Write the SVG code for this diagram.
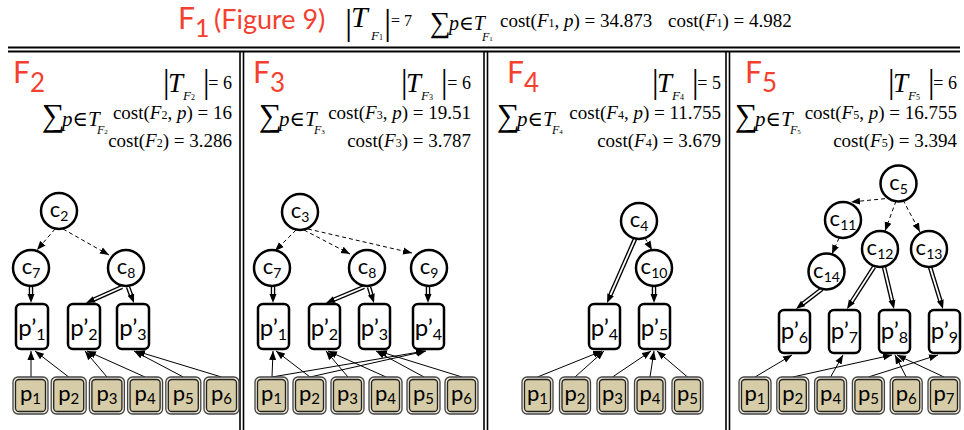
<svg xmlns="http://www.w3.org/2000/svg" width="964" height="430" viewBox="0 0 964 430">
<style>
.red{font-family:Lato,"Liberation Sans",sans-serif;fill:#f4402f}
.m{font-family:"Liberation Serif","DejaVu Serif",serif;fill:#000}
.i{font-style:italic}
.n{font-style:normal}
.e{text-anchor:end}
.lbl{font-family:Lato,"Liberation Sans",sans-serif;fill:#000;text-anchor:middle}
.cl{font-size:22px}
.pl{font-size:24px}
.ql{font-size:22px}
.circ{fill:#fff;stroke:#000;stroke-width:2.5}
.pp{fill:#fff;stroke:#000;stroke-width:2.5}
.po{fill:#eee9d8;stroke:#444;stroke-width:1.3}
.pi{fill:#d6cca8;stroke:#222;stroke-width:1.3}
.thin{stroke:#000;stroke-width:1;fill:none;marker-end:url(#ah)}
.dash{stroke:#000;stroke-width:1;stroke-dasharray:4 3;fill:none;marker-end:url(#ah)}
.dblo{stroke:#000;stroke-width:4.5;fill:none}
.dbli{stroke:#fff;stroke-width:1.8;fill:none}
.mk{stroke:none;fill:none;marker-end:url(#ah)}
.rule{stroke:#000;fill:none}
</style>
<defs>
<marker id="ah" markerUnits="userSpaceOnUse" markerWidth="10" markerHeight="8" refX="9" refY="4" orient="auto"><path d="M0,0.5 L9,4 L0,7.5 z" fill="#000"/></marker>
</defs>
<rect width="964" height="430" fill="#fff"/>

<g id="frame">
<line class="rule" x1="8" y1="47.5" x2="960" y2="47.5" stroke-width="2.2"/>
<line class="rule" x1="8" y1="51.5" x2="960" y2="51.5" stroke-width="2.2"/>
<line class="rule" x1="240" y1="52" x2="240" y2="430" stroke-width="1.6"/>
<line class="rule" x1="243.5" y1="52" x2="243.5" y2="430" stroke-width="1.6"/>
<line class="rule" x1="484" y1="52" x2="484" y2="430" stroke-width="1.6"/>
<line class="rule" x1="487.5" y1="52" x2="487.5" y2="430" stroke-width="1.6"/>
<line class="rule" x1="726" y1="52" x2="726" y2="430" stroke-width="1.6"/>
<line class="rule" x1="729.5" y1="52" x2="729.5" y2="430" stroke-width="1.6"/>
</g>

<g id="header">
<text class="red" x="178" y="29" font-size="30">F<tspan font-size="25" dy="8">1</tspan></text>
<text class="red" x="214" y="29" font-size="27">(Figure 9)</text>
<text class="m" x="345" y="34" font-size="36">|</text>
<text class="m i" x="351" y="27" font-size="30">T</text>
<text class="m i" x="371" y="40" font-size="13">F<tspan class="n" font-size="8">1</tspan></text>
<text class="m" x="384" y="34" font-size="36">|</text>
<text class="m" x="391" y="26" font-size="16">= 7</text>
<text class="m" x="430" y="32" font-size="29">∑</text>
<text class="m" x="449" y="30" font-size="20"><tspan class="i">p</tspan>∈<tspan class="i">T</tspan></text>
<text class="m i" x="482" y="41" font-size="12">F<tspan class="n" font-size="7">1</tspan></text>
<text class="m" x="500" y="27" font-size="19">cost(<tspan class="i">F</tspan><tspan font-size="12">1</tspan>, <tspan class="i">p</tspan>) = 34.873</text>
<text class="m" x="668" y="27" font-size="19">cost(<tspan class="i">F</tspan><tspan font-size="12">1</tspan>) = 4.982</text>
</g>

<g id="panel-F2-header">
<text class="red" x="13" y="83" font-size="30">F<tspan font-size="26" dy="9">2</tspan></text>
<text class="m" x="163" y="93" font-size="33">|</text>
<text class="m i" x="168" y="92" font-size="27">T</text>
<text class="m i" x="183" y="100" font-size="13">F<tspan class="n" font-size="8">2</tspan></text>
<text class="m" x="203" y="93" font-size="33">|</text>
<text class="m e" x="232" y="89" font-size="18">= 6</text>
<text class="m" x="42" y="126" font-size="32">∑</text>
<text class="m" x="62" y="126" font-size="21"><tspan class="i">p</tspan>∈<tspan class="i">T</tspan></text>
<text class="m i" x="97" y="134" font-size="12">F<tspan class="n" font-size="7">2</tspan></text>
<text class="m e" x="232" y="119" font-size="19">cost(<tspan class="i">F</tspan><tspan font-size="12">2</tspan>, <tspan class="i">p</tspan>) = 16</text>
<text class="m e" x="232" y="147" font-size="19">cost(<tspan class="i">F</tspan><tspan font-size="12">2</tspan>) = 3.286</text>
</g>

<g id="panel-F3-header">
<text class="red" x="253" y="83" font-size="30">F<tspan font-size="26" dy="9">3</tspan></text>
<text class="m" x="401" y="93" font-size="33">|</text>
<text class="m i" x="406" y="92" font-size="27">T</text>
<text class="m i" x="421" y="100" font-size="13">F<tspan class="n" font-size="8">3</tspan></text>
<text class="m" x="441" y="93" font-size="33">|</text>
<text class="m e" x="471" y="89" font-size="18">= 6</text>
<text class="m" x="259" y="126" font-size="32">∑</text>
<text class="m" x="279" y="126" font-size="21"><tspan class="i">p</tspan>∈<tspan class="i">T</tspan></text>
<text class="m i" x="314" y="134" font-size="12">F<tspan class="n" font-size="7">3</tspan></text>
<text class="m e" x="471" y="119" font-size="19">cost(<tspan class="i">F</tspan><tspan font-size="12">3</tspan>, <tspan class="i">p</tspan>) = 19.51</text>
<text class="m e" x="471" y="147" font-size="19">cost(<tspan class="i">F</tspan><tspan font-size="12">3</tspan>) = 3.787</text>
</g>

<g id="panel-F4-header">
<text class="red" x="507" y="83" font-size="30">F<tspan font-size="26" dy="9">4</tspan></text>
<text class="m" x="652" y="93" font-size="33">|</text>
<text class="m i" x="657" y="92" font-size="27">T</text>
<text class="m i" x="672" y="100" font-size="13">F<tspan class="n" font-size="8">4</tspan></text>
<text class="m" x="692" y="93" font-size="33">|</text>
<text class="m e" x="721" y="89" font-size="18">= 5</text>
<text class="m" x="497" y="126" font-size="32">∑</text>
<text class="m" x="517" y="126" font-size="21"><tspan class="i">p</tspan>∈<tspan class="i">T</tspan></text>
<text class="m i" x="552" y="134" font-size="12">F<tspan class="n" font-size="7">4</tspan></text>
<text class="m e" x="721" y="119" font-size="19">cost(<tspan class="i">F</tspan><tspan font-size="12">4</tspan>, <tspan class="i">p</tspan>) = 11.755</text>
<text class="m e" x="721" y="147" font-size="19">cost(<tspan class="i">F</tspan><tspan font-size="12">4</tspan>) = 3.679</text>
</g>

<g id="panel-F5-header">
<text class="red" x="745" y="83" font-size="30">F<tspan font-size="26" dy="9">5</tspan></text>
<text class="m" x="888" y="93" font-size="33">|</text>
<text class="m i" x="893" y="92" font-size="27">T</text>
<text class="m i" x="908" y="100" font-size="13">F<tspan class="n" font-size="8">5</tspan></text>
<text class="m" x="928" y="93" font-size="33">|</text>
<text class="m e" x="957" y="89" font-size="18">= 6</text>
<text class="m" x="735" y="126" font-size="32">∑</text>
<text class="m" x="755" y="126" font-size="21"><tspan class="i">p</tspan>∈<tspan class="i">T</tspan></text>
<text class="m i" x="790" y="134" font-size="12">F<tspan class="n" font-size="7">5</tspan></text>
<text class="m e" x="957" y="119" font-size="19">cost(<tspan class="i">F</tspan><tspan font-size="12">5</tspan>, <tspan class="i">p</tspan>) = 16.755</text>
<text class="m e" x="957" y="147" font-size="19">cost(<tspan class="i">F</tspan><tspan font-size="12">5</tspan>) = 3.394</text>
</g>

<g id="connectors">
<!-- panel F2 -->
<line class="dash" x1="55" y1="229" x2="37" y2="250"/>
<line class="dash" x1="63" y1="229" x2="109" y2="255"/>
<line class="dblo" x1="31" y1="287" x2="31" y2="296"/><line class="dbli" x1="31" y1="286" x2="31" y2="295"/><line class="mk" x1="31" y1="287" x2="31" y2="303"/>
<line class="dblo" x1="122" y1="287" x2="92.4" y2="300.2"/><line class="dbli" x1="122" y1="287" x2="93.3" y2="299.8"/><line class="mk" x1="122" y1="287" x2="86" y2="303"/>
<line class="dblo" x1="128" y1="287" x2="131.5" y2="296.4"/><line class="dbli" x1="128" y1="287" x2="131.2" y2="295.5"/><line class="mk" x1="128" y1="287" x2="134" y2="303"/>
<line class="thin" x1="31" y1="377" x2="31" y2="351"/>
<line class="thin" x1="68.7" y1="377" x2="35" y2="351"/>
<line class="thin" x1="107" y1="377" x2="85" y2="351"/>
<line class="thin" x1="145" y1="377" x2="87" y2="351"/>
<line class="thin" x1="183.3" y1="377" x2="134" y2="351"/>
<line class="thin" x1="221.5" y1="377" x2="136" y2="351"/>
<!-- panel F3 -->
<line class="dash" x1="296" y1="230" x2="275" y2="251"/>
<line class="dash" x1="304" y1="230" x2="350" y2="254"/>
<line class="dash" x1="308" y1="229" x2="412" y2="253"/>
<line class="dblo" x1="273" y1="287" x2="273" y2="296"/><line class="dbli" x1="273" y1="286" x2="273" y2="295"/><line class="mk" x1="273" y1="287" x2="273" y2="303"/>
<line class="dblo" x1="364" y1="287" x2="332.5" y2="300.3"/><line class="dbli" x1="364" y1="287" x2="333.4" y2="299.9"/><line class="mk" x1="364" y1="287" x2="326" y2="303"/>
<line class="dblo" x1="369" y1="287" x2="371.9" y2="296.3"/><line class="dbli" x1="369" y1="287" x2="371.6" y2="295.4"/><line class="mk" x1="369" y1="287" x2="374" y2="303"/>
<line class="dblo" x1="428" y1="287" x2="428" y2="296"/><line class="dbli" x1="428" y1="286" x2="428" y2="295"/><line class="mk" x1="428" y1="287" x2="428" y2="303"/>
<line class="thin" x1="272" y1="377" x2="273" y2="351"/>
<line class="thin" x1="272" y1="377" x2="425" y2="351"/>
<line class="thin" x1="310" y1="377" x2="276" y2="351"/>
<line class="thin" x1="310" y1="377" x2="426" y2="351"/>
<line class="thin" x1="348" y1="377" x2="326" y2="351"/>
<line class="thin" x1="386" y1="377" x2="328" y2="351"/>
<line class="thin" x1="424" y1="377" x2="376" y2="351"/>
<line class="thin" x1="462" y1="377" x2="378" y2="351"/>
<!-- panel F4 -->
<line class="dash" x1="645" y1="238" x2="652" y2="250"/>
<line class="dblo" x1="635" y1="239" x2="609.7" y2="296.6"/><line class="dbli" x1="635" y1="239" x2="610.1" y2="295.6"/><line class="mk" x1="635" y1="239" x2="607" y2="303"/>
<line class="dblo" x1="654" y1="287" x2="654" y2="296"/><line class="dbli" x1="654" y1="286" x2="654" y2="295"/><line class="mk" x1="654" y1="287" x2="654" y2="303"/>
<line class="thin" x1="537.5" y1="377" x2="602" y2="351"/>
<line class="thin" x1="575" y1="377" x2="604" y2="351"/>
<line class="thin" x1="612.5" y1="377" x2="651" y2="351"/>
<line class="thin" x1="650" y1="377" x2="654" y2="351"/>
<line class="thin" x1="687.5" y1="377" x2="657" y2="351"/>
<!-- panel F5 -->
<line class="dash" x1="892" y1="198" x2="851" y2="202"/>
<line class="dash" x1="896" y1="201" x2="885" y2="231"/>
<line class="dash" x1="903" y1="200" x2="920" y2="232"/>
<line class="dash" x1="839" y1="238" x2="832" y2="254"/>
<line class="dblo" x1="822" y1="289" x2="801.6" y2="304.7"/><line class="dbli" x1="822" y1="289" x2="802.3" y2="304.1"/><line class="mk" x1="822" y1="289" x2="796" y2="309"/>
<line class="dblo" x1="874" y1="267" x2="850.8" y2="303.1"/><line class="dbli" x1="874" y1="267" x2="851.3" y2="302.3"/><line class="mk" x1="874" y1="267" x2="847" y2="309"/>
<line class="dblo" x1="884" y1="267" x2="892.4" y2="302.2"/><line class="dbli" x1="884" y1="267" x2="892.2" y2="301.2"/><line class="mk" x1="884" y1="267" x2="894" y2="309"/>
<line class="dblo" x1="930" y1="267" x2="940.9" y2="302.3"/><line class="dbli" x1="930" y1="267" x2="940.6" y2="301.4"/><line class="mk" x1="930" y1="267" x2="943" y2="309"/>
<line class="thin" x1="755" y1="377" x2="792" y2="355"/>
<line class="thin" x1="792.8" y1="377" x2="892" y2="355"/>
<line class="thin" x1="830.6" y1="377" x2="843" y2="355"/>
<line class="thin" x1="868.4" y1="377" x2="938" y2="355"/>
<line class="thin" x1="906.2" y1="377" x2="895" y2="355"/>
<line class="thin" x1="944" y1="377" x2="897" y2="355"/>
</g>

<!-- panel F2 nodes -->
<g id="F2-c2"><circle class="circ" cx="59" cy="211" r="18"/><text class="lbl cl" x="59" y="217">c<tspan font-size="14" dy="4">2</tspan></text></g>
<g id="F2-c7"><circle class="circ" cx="31" cy="268" r="18"/><text class="lbl cl" x="31" y="274">c<tspan font-size="14" dy="4">7</tspan></text></g>
<g id="F2-c8"><circle class="circ" cx="126" cy="268" r="18"/><text class="lbl cl" x="126" y="274">c<tspan font-size="14" dy="4">8</tspan></text></g>
<g id="F2-pp1"><rect class="pp" x="16" y="304" width="32" height="45" rx="5"/><text class="lbl pl" x="32" y="336">p’<tspan font-size="16" dy="4">1</tspan></text></g>
<g id="F2-pp2"><rect class="pp" x="68" y="304" width="32" height="45" rx="5"/><text class="lbl pl" x="84" y="336">p’<tspan font-size="16" dy="4">2</tspan></text></g>
<g id="F2-pp3"><rect class="pp" x="117" y="304" width="32" height="45" rx="5"/><text class="lbl pl" x="133" y="336">p’<tspan font-size="16" dy="4">3</tspan></text></g>
<g id="F2-p1"><rect class="po" x="13" y="377" width="35" height="37" rx="5"/><rect class="pi" x="15.5" y="379.5" width="30" height="32" rx="3.5"/><text class="lbl ql" x="30.5" y="401">p<tspan font-size="15" dy="3">1</tspan></text></g>
<g id="F2-p2"><rect class="po" x="51.2" y="377" width="35" height="37" rx="5"/><rect class="pi" x="53.7" y="379.5" width="30" height="32" rx="3.5"/><text class="lbl ql" x="68.7" y="401">p<tspan font-size="15" dy="3">2</tspan></text></g>
<g id="F2-p3"><rect class="po" x="89.4" y="377" width="35" height="37" rx="5"/><rect class="pi" x="91.9" y="379.5" width="30" height="32" rx="3.5"/><text class="lbl ql" x="106.9" y="401">p<tspan font-size="15" dy="3">3</tspan></text></g>
<g id="F2-p4"><rect class="po" x="127.6" y="377" width="35" height="37" rx="5"/><rect class="pi" x="130.1" y="379.5" width="30" height="32" rx="3.5"/><text class="lbl ql" x="145.1" y="401">p<tspan font-size="15" dy="3">4</tspan></text></g>
<g id="F2-p5"><rect class="po" x="165.8" y="377" width="35" height="37" rx="5"/><rect class="pi" x="168.3" y="379.5" width="30" height="32" rx="3.5"/><text class="lbl ql" x="183.3" y="401">p<tspan font-size="15" dy="3">5</tspan></text></g>
<g id="F2-p6"><rect class="po" x="204" y="377" width="35" height="37" rx="5"/><rect class="pi" x="206.5" y="379.5" width="30" height="32" rx="3.5"/><text class="lbl ql" x="221.5" y="401">p<tspan font-size="15" dy="3">6</tspan></text></g>

<!-- panel F3 nodes -->
<g id="F3-c3"><circle class="circ" cx="300" cy="212" r="18"/><text class="lbl cl" x="300" y="218">c<tspan font-size="14" dy="4">3</tspan></text></g>
<g id="F3-c7"><circle class="circ" cx="272" cy="268" r="18"/><text class="lbl cl" x="272" y="274">c<tspan font-size="14" dy="4">7</tspan></text></g>
<g id="F3-c8"><circle class="circ" cx="367" cy="268" r="18"/><text class="lbl cl" x="367" y="274">c<tspan font-size="14" dy="4">8</tspan></text></g>
<g id="F3-c9"><circle class="circ" cx="429" cy="268" r="18"/><text class="lbl cl" x="429" y="274">c<tspan font-size="14" dy="4">9</tspan></text></g>
<g id="F3-pp1"><rect class="pp" x="258" y="304" width="31" height="45" rx="5"/><text class="lbl pl" x="273.5" y="336">p’<tspan font-size="16" dy="4">1</tspan></text></g>
<g id="F3-pp2"><rect class="pp" x="309" y="304" width="31" height="45" rx="5"/><text class="lbl pl" x="324.5" y="336">p’<tspan font-size="16" dy="4">2</tspan></text></g>
<g id="F3-pp3"><rect class="pp" x="359" y="304" width="31" height="45" rx="5"/><text class="lbl pl" x="374.5" y="336">p’<tspan font-size="16" dy="4">3</tspan></text></g>
<g id="F3-pp4"><rect class="pp" x="413" y="304" width="31" height="45" rx="5"/><text class="lbl pl" x="428.5" y="336">p’<tspan font-size="16" dy="4">4</tspan></text></g>
<g id="F3-p1"><rect class="po" x="255" y="377" width="33" height="37" rx="5"/><rect class="pi" x="257.5" y="379.5" width="28" height="32" rx="3.5"/><text class="lbl ql" x="271.5" y="401">p<tspan font-size="15" dy="3">1</tspan></text></g>
<g id="F3-p2"><rect class="po" x="293" y="377" width="33" height="37" rx="5"/><rect class="pi" x="295.5" y="379.5" width="28" height="32" rx="3.5"/><text class="lbl ql" x="309.5" y="401">p<tspan font-size="15" dy="3">2</tspan></text></g>
<g id="F3-p3"><rect class="po" x="331" y="377" width="33" height="37" rx="5"/><rect class="pi" x="333.5" y="379.5" width="28" height="32" rx="3.5"/><text class="lbl ql" x="347.5" y="401">p<tspan font-size="15" dy="3">3</tspan></text></g>
<g id="F3-p4"><rect class="po" x="369" y="377" width="33" height="37" rx="5"/><rect class="pi" x="371.5" y="379.5" width="28" height="32" rx="3.5"/><text class="lbl ql" x="385.5" y="401">p<tspan font-size="15" dy="3">4</tspan></text></g>
<g id="F3-p5"><rect class="po" x="407" y="377" width="33" height="37" rx="5"/><rect class="pi" x="409.5" y="379.5" width="28" height="32" rx="3.5"/><text class="lbl ql" x="423.5" y="401">p<tspan font-size="15" dy="3">5</tspan></text></g>
<g id="F3-p6"><rect class="po" x="445" y="377" width="33" height="37" rx="5"/><rect class="pi" x="447.5" y="379.5" width="28" height="32" rx="3.5"/><text class="lbl ql" x="461.5" y="401">p<tspan font-size="15" dy="3">6</tspan></text></g>

<!-- panel F4 nodes -->
<g id="F4-c4"><circle class="circ" cx="639" cy="221" r="18"/><text class="lbl cl" x="639" y="227">c<tspan font-size="14" dy="4">4</tspan></text></g>
<g id="F4-c10"><circle class="circ" cx="654" cy="268" r="18"/><text class="lbl cl" x="654" y="274">c<tspan font-size="14" dy="4">10</tspan></text></g>
<g id="F4-pp4"><rect class="pp" x="589" y="304" width="31" height="45" rx="5"/><text class="lbl pl" x="604.5" y="336">p’<tspan font-size="16" dy="4">4</tspan></text></g>
<g id="F4-pp5"><rect class="pp" x="639" y="304" width="31" height="45" rx="5"/><text class="lbl pl" x="654.5" y="336">p’<tspan font-size="16" dy="4">5</tspan></text></g>
<g id="F4-p1"><rect class="po" x="522" y="377" width="31" height="37" rx="5"/><rect class="pi" x="524.5" y="379.5" width="26" height="32" rx="3.5"/><text class="lbl ql" x="537.5" y="401">p<tspan font-size="15" dy="3">1</tspan></text></g>
<g id="F4-p2"><rect class="po" x="559.5" y="377" width="31" height="37" rx="5"/><rect class="pi" x="562" y="379.5" width="26" height="32" rx="3.5"/><text class="lbl ql" x="575" y="401">p<tspan font-size="15" dy="3">2</tspan></text></g>
<g id="F4-p3"><rect class="po" x="597" y="377" width="31" height="37" rx="5"/><rect class="pi" x="599.5" y="379.5" width="26" height="32" rx="3.5"/><text class="lbl ql" x="612.5" y="401">p<tspan font-size="15" dy="3">3</tspan></text></g>
<g id="F4-p4"><rect class="po" x="634.5" y="377" width="31" height="37" rx="5"/><rect class="pi" x="637" y="379.5" width="26" height="32" rx="3.5"/><text class="lbl ql" x="650" y="401">p<tspan font-size="15" dy="3">4</tspan></text></g>
<g id="F4-p5"><rect class="po" x="672" y="377" width="31" height="37" rx="5"/><rect class="pi" x="674.5" y="379.5" width="26" height="32" rx="3.5"/><text class="lbl ql" x="687.5" y="401">p<tspan font-size="15" dy="3">5</tspan></text></g>

<!-- panel F5 nodes -->
<g id="F5-c5"><circle class="circ" cx="898.5" cy="183.5" r="18"/><text class="lbl cl" x="898.5" y="189.5">c<tspan font-size="14" dy="4">5</tspan></text></g>
<g id="F5-c11"><circle class="circ" cx="843" cy="220" r="18"/><text class="lbl cl" x="843" y="226">c<tspan font-size="14" dy="4">11</tspan></text></g>
<g id="F5-c12"><circle class="circ" cx="880" cy="249" r="18"/><text class="lbl cl" x="880" y="255">c<tspan font-size="14" dy="4">12</tspan></text></g>
<g id="F5-c13"><circle class="circ" cx="929" cy="249" r="18"/><text class="lbl cl" x="929" y="255">c<tspan font-size="14" dy="4">13</tspan></text></g>
<g id="F5-c14"><circle class="circ" cx="826.5" cy="271.5" r="18"/><text class="lbl cl" x="826.5" y="277.5">c<tspan font-size="14" dy="4">14</tspan></text></g>
<g id="F5-pp6"><rect class="pp" x="779" y="310" width="31" height="43" rx="5"/><text class="lbl pl" x="794.5" y="339">p’<tspan font-size="16" dy="4">6</tspan></text></g>
<g id="F5-pp7"><rect class="pp" x="829" y="310" width="31" height="43" rx="5"/><text class="lbl pl" x="844.5" y="339">p’<tspan font-size="16" dy="4">7</tspan></text></g>
<g id="F5-pp8"><rect class="pp" x="879" y="310" width="31" height="43" rx="5"/><text class="lbl pl" x="894.5" y="339">p’<tspan font-size="16" dy="4">8</tspan></text></g>
<g id="F5-pp9"><rect class="pp" x="929" y="310" width="31" height="43" rx="5"/><text class="lbl pl" x="944.5" y="339">p’<tspan font-size="16" dy="4">9</tspan></text></g>
<g id="F5-p1"><rect class="po" x="739" y="377" width="32" height="37" rx="5"/><rect class="pi" x="741.5" y="379.5" width="27" height="32" rx="3.5"/><text class="lbl ql" x="755" y="401">p<tspan font-size="15" dy="3">1</tspan></text></g>
<g id="F5-p2"><rect class="po" x="776.8" y="377" width="32" height="37" rx="5"/><rect class="pi" x="779.3" y="379.5" width="27" height="32" rx="3.5"/><text class="lbl ql" x="792.8" y="401">p<tspan font-size="15" dy="3">2</tspan></text></g>
<g id="F5-p4"><rect class="po" x="814.6" y="377" width="32" height="37" rx="5"/><rect class="pi" x="817.1" y="379.5" width="27" height="32" rx="3.5"/><text class="lbl ql" x="830.6" y="401">p<tspan font-size="15" dy="3">4</tspan></text></g>
<g id="F5-p5"><rect class="po" x="852.4" y="377" width="32" height="37" rx="5"/><rect class="pi" x="854.9" y="379.5" width="27" height="32" rx="3.5"/><text class="lbl ql" x="868.4" y="401">p<tspan font-size="15" dy="3">5</tspan></text></g>
<g id="F5-p6"><rect class="po" x="890.2" y="377" width="32" height="37" rx="5"/><rect class="pi" x="892.7" y="379.5" width="27" height="32" rx="3.5"/><text class="lbl ql" x="906.2" y="401">p<tspan font-size="15" dy="3">6</tspan></text></g>
<g id="F5-p7"><rect class="po" x="928" y="377" width="32" height="37" rx="5"/><rect class="pi" x="930.5" y="379.5" width="27" height="32" rx="3.5"/><text class="lbl ql" x="944" y="401">p<tspan font-size="15" dy="3">7</tspan></text></g>
</svg>
